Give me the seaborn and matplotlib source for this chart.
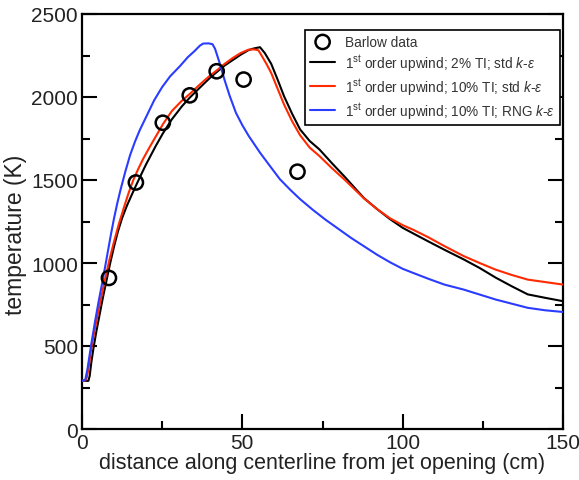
import matplotlib
matplotlib.use("Agg")
import matplotlib.pyplot as plt
import seaborn as sns
import pandas as pd
from matplotlib.ticker import MultipleLocator

# ---- data ----
barlow_x = [8.4, 16.8, 25.2, 33.6, 42.0, 50.4, 67.2]
barlow_T = [910, 1485, 1845, 2010, 2155, 2105, 1550]

std2_x = [0, 2.0, 2.4, 2.9, 3.6, 4.5, 5.5, 6.5, 7.7, 8.8, 10, 11.2, 12.5, 14, 15.5, 16.8,
          18.5, 20, 23, 25.2, 28, 31.2, 33.7, 36, 38, 40, 42, 44.5, 47.2, 49.5, 51.9, 53.5,
          55.5, 57, 59, 61, 63, 65.5, 68, 71, 74, 78, 82, 86, 88, 92, 96, 100, 103.3, 108,
          113, 119, 124, 129, 134, 139, 144.5, 150]
std2_T = [290, 290, 320, 400, 490, 590, 690, 790, 900, 1000, 1100, 1190, 1270, 1345, 1410,
          1465, 1535, 1595, 1705, 1780, 1865, 1945, 1998, 2042, 2080, 2117, 2150, 2190, 2225,
          2255, 2282, 2292, 2300, 2265, 2200, 2105, 2005, 1900, 1805, 1735, 1685, 1600, 1518,
          1432, 1390, 1325, 1265, 1212, 1178, 1130, 1080, 1022, 970, 912, 860, 811, 790, 770]

std10_x = [0, 1.0, 1.5, 2, 2.5, 3, 4, 5.2, 6.3, 7.3, 8.5, 10, 11.5, 13, 14.5, 16, 17.5, 19,
           21, 23, 25.2, 28, 31, 33.7, 36, 38, 40, 42, 44.5, 47, 49.5, 51.9, 53.5, 55, 56,
           57.5, 59, 61, 63, 65.5, 68, 71, 74, 78, 82, 86, 88, 92, 96, 100, 103.3, 108, 113,
           119, 124, 129, 134, 139, 144.5, 150]
std10_T = [290, 292, 310, 360, 430, 500, 600, 720, 820, 912, 1015, 1130, 1235, 1330, 1420,
           1500, 1565, 1625, 1695, 1762, 1835, 1915, 1975, 2020, 2062, 2097, 2130, 2160, 2200,
           2235, 2265, 2285, 2287, 2282, 2250, 2200, 2145, 2050, 1955, 1855, 1770, 1695, 1645,
           1570, 1500, 1425, 1388, 1325, 1270, 1228, 1200, 1155, 1102, 1042, 1000, 960, 928,
           900, 885, 870]

rng_x = [0, 1.0, 1.7, 2.8, 4, 5.2, 6.4, 7.7, 9, 10, 11, 12, 13.5, 15, 16.5, 18, 20, 22.5, 25,
         27.5, 30.5, 33, 35, 36.8, 37.8, 39.5, 40.7, 41.5, 43, 44.5, 46, 48, 50, 52, 55.5, 58,
         61.7, 65, 68, 72, 76, 80, 84, 88, 92, 96, 100, 103.3, 108, 113, 119, 124, 129, 134,
         139, 144.5, 150]
rng_T = [290, 295, 360, 500, 640, 770, 890, 1030, 1170, 1270, 1360, 1440, 1550, 1650, 1730,
         1800, 1880, 1980, 2060, 2125, 2185, 2240, 2275, 2310, 2322, 2323, 2318, 2290, 2200,
         2100, 2010, 1905, 1830, 1765, 1665, 1600, 1505, 1440, 1385, 1320, 1260, 1205, 1150,
         1100, 1050, 1005, 965, 940, 905, 870, 840, 810, 780, 755, 730, 715, 705]

labels = ["Barlow data",
          r"1$^{\rm st}$ order upwind; 2% TI; std $\mathit{k}$-$\mathit{\varepsilon}$",
          r"1$^{\rm st}$ order upwind; 10% TI; std $\mathit{k}$-$\mathit{\varepsilon}$",
          r"1$^{\rm st}$ order upwind; 10% TI; RNG $\mathit{k}$-$\mathit{\varepsilon}$"]
colors = ["black", "#ff2a00", "#2a3cff"]

# ---- style ----
sns.set_style("ticks")
plt.rcParams["font.family"] = ["Liberation Sans", "DejaVu Sans"]
plt.rcParams["mathtext.fontset"] = "custom"
plt.rcParams["mathtext.rm"] = "Liberation Sans"
plt.rcParams["mathtext.it"] = "Liberation Sans:italic"
plt.rcParams["mathtext.bf"] = "Liberation Sans:bold"
txt = "#222222"

fig = plt.figure(figsize=(5.79, 4.81), dpi=100)
ax = fig.add_axes([82/579, 1-430/481, (563-82)/579, (430-15)/481])

series = [(std2_x, std2_T), (std10_x, std10_T), (rng_x, rng_T)]
for (xs, ts), c, lab in zip(series, colors, labels[1:]):
    df = pd.DataFrame({"x": xs, "T": ts})
    sns.lineplot(data=df, x="x", y="T", ax=ax, color=c, lw=1.5, sort=False,
                 estimator=None, label=lab, zorder=3)

dfb = pd.DataFrame({"x": barlow_x, "T": barlow_T})
sns.scatterplot(data=dfb, x="x", y="T", ax=ax, marker="o", s=105, facecolor="none",
                edgecolor="black", linewidth=1.8, label=labels[0], zorder=4)

ax.set_xlim(0, 150)
ax.set_ylim(0, 2500)
ax.xaxis.set_major_locator(MultipleLocator(50))
ax.xaxis.set_minor_locator(MultipleLocator(25))
ax.yaxis.set_major_locator(MultipleLocator(500))
ax.yaxis.set_minor_locator(MultipleLocator(250))
ax.tick_params(which="both", direction="in", top=False, right=True, width=1.5,
               labelsize=15, colors="black", labelcolor=txt)
ax.tick_params(which="major", length=11, pad=3)
ax.tick_params(which="minor", length=6)
for s in ax.spines.values():
    s.set_linewidth(1.6)
    s.set_visible(True)
    s.set_color("black")

ax.set_xlabel("distance along centerline from jet opening (cm)", fontsize=15.5, color=txt, labelpad=0)
ax.set_ylabel("temperature (K)", fontsize=16.5, color=txt, labelpad=3)
ax.yaxis.set_label_coords(-0.115, 0.47)

h, l = ax.get_legend_handles_labels()
order = [l.index(x) for x in labels]
leg = ax.legend([h[i] for i in order], [l[i] for i in order], loc="upper right",
                bbox_to_anchor=(0.994, 0.962), fontsize=9.8, frameon=True, fancybox=False,
                edgecolor="black", framealpha=1, borderpad=0.35, labelspacing=0.25,
                handlelength=1.85, handletextpad=0.75, borderaxespad=0)
leg.get_frame().set_linewidth(1.2)
for t in leg.get_texts():
    t.set_color("#333333")

fig.savefig("out.png", dpi=100)
